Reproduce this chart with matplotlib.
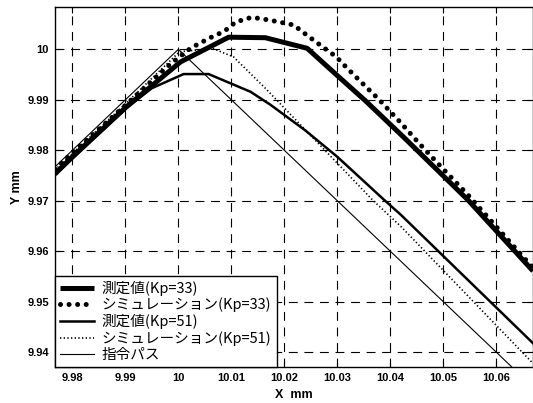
import matplotlib
matplotlib.use('Agg')
import matplotlib.pyplot as plt
from matplotlib.font_manager import FontProperties

# 測定値 (Kp=33)
meas33_x = [9.9767, 9.98, 9.9902, 10.0004, 10.0095, 10.0164, 10.0243, 10.0303, 10.0353, 10.0425, 10.0546, 10.0669]
meas33_y = [9.9753, 9.9787, 9.9886, 9.9975, 10.0024, 10.0023, 10.0002, 9.9945, 9.9898, 9.9826, 9.9702, 9.9561]

# シミュレーション (Kp=33)
sim33_x = [9.9767, 9.9902, 9.9985, 10.0023, 10.0035, 10.0064, 10.0079, 10.0092, 10.0108, 10.0137,
           10.0155, 10.0186, 10.0218, 10.0230, 10.0245, 10.0272, 10.0298, 10.0319, 10.0344, 10.0379,
           10.0420, 10.0454, 10.0495, 10.0546, 10.0669]
sim33_y = [9.9763, 9.9891, 9.9971, 10.0002, 10.0009, 10.0025, 10.0032, 10.0040, 10.0054, 10.0063,
           10.0061, 10.0055, 10.0048, 10.0038, 10.0026, 10.0005, 9.9985, 9.9962, 9.9936, 9.9900,
           9.9854, 9.9814, 9.9768, 9.9712, 9.9567]

# 測定値 (Kp=51)
meas51_x = [9.9767, 9.9902, 9.9950, 10.0010, 10.0057, 10.0136, 10.0174, 10.0240, 10.0300, 10.0388, 10.0420, 10.0669]
meas51_y = [9.9751, 9.9884, 9.9923, 9.9951, 9.9951, 9.9916, 9.9890, 9.9839, 9.9787, 9.9702, 9.9672, 9.9418]

# シミュレーション (Kp=51)
sim51_x = [9.9767, 9.9902, 10.0002, 10.0064, 10.0104, 10.0164, 10.0240, 10.0366, 10.0420, 10.0669]
sim51_y = [9.9761, 9.9894, 9.9995, 10.0002, 9.9985, 9.9923, 9.9840, 9.9702, 9.9649, 9.9378]

# 指令パス
cmd_x = [9.97, 10.0, 10.07]
cmd_y = [9.97, 10.0, 9.93]

labels = ['測定値(Kp=33)', 'シミュレーション(Kp=33)', '測定値(Kp=51)', 'シミュレーション(Kp=51)', '指令パス']

x_ticks = [9.98, 9.99, 10.0, 10.01, 10.02, 10.03, 10.04, 10.05, 10.06]
x_tick_labels = ['9.98', '9.99', '10', '10.01', '10.02', '10.03', '10.04', '10.05', '10.06']
y_ticks = [9.94, 9.95, 9.96, 9.97, 9.98, 9.99, 10.0]
y_tick_labels = ['9.94', '9.95', '9.96', '9.97', '9.98', '9.99', '10']

fig = plt.figure(figsize=(5.33, 4.03), dpi=100)
ax = fig.add_axes([55 / 533, 36 / 403, 478 / 533, 360 / 403])

ax.plot(meas33_x, meas33_y, color='black', lw=3.6, solid_capstyle='butt', label=labels[0])
ax.plot(sim33_x, sim33_y, color='black', lw=3.6, linestyle=(0, (0.01, 1.7)),
        dash_capstyle='round', label=labels[1])
ax.plot(meas51_x, meas51_y, color='black', lw=1.8, label=labels[2])
ax.plot(sim51_x, sim51_y, color='black', lw=1.2, linestyle=(0, (0.8, 1.4)), label=labels[3])
ax.plot(cmd_x, cmd_y, color='black', lw=0.8, label=labels[4])

ax.set_xlim(9.97673, 10.0669)
ax.set_ylim(9.93709, 10.00838)

ax.set_xticks(x_ticks)
ax.set_xticklabels(x_tick_labels)
ax.set_yticks(y_ticks)
ax.set_yticklabels(y_tick_labels)

tick_font = FontProperties(family='Liberation Sans', weight='bold', size=8)
for t in ax.get_xticklabels() + ax.get_yticklabels():
    t.set_fontproperties(tick_font)

ax.tick_params(direction='in', top=True, right=True, length=4, width=0.8, pad=4.5)
ax.grid(True, color='black', linestyle=(0, (8, 6)), lw=0.8)
for s in ax.spines.values():
    s.set_linewidth(1.0)

label_font = FontProperties(family='Liberation Sans', weight='bold', size=9)
ax.set_xlabel('X  mm', fontproperties=label_font, labelpad=4)
ax.set_ylabel('Y mm', fontproperties=label_font, labelpad=3)

leg_font = FontProperties(family=['Noto Sans CJK JP', 'DejaVu Sans'], size=10.5)
leg = ax.legend(loc='lower left', prop=leg_font, frameon=True, fancybox=False,
                edgecolor='black', framealpha=1, borderaxespad=0, borderpad=0.35,
                handlelength=2.3, handletextpad=0.55, labelspacing=0.13)
leg.get_frame().set_linewidth(1.0)

fig.savefig('out.png', dpi=100)
